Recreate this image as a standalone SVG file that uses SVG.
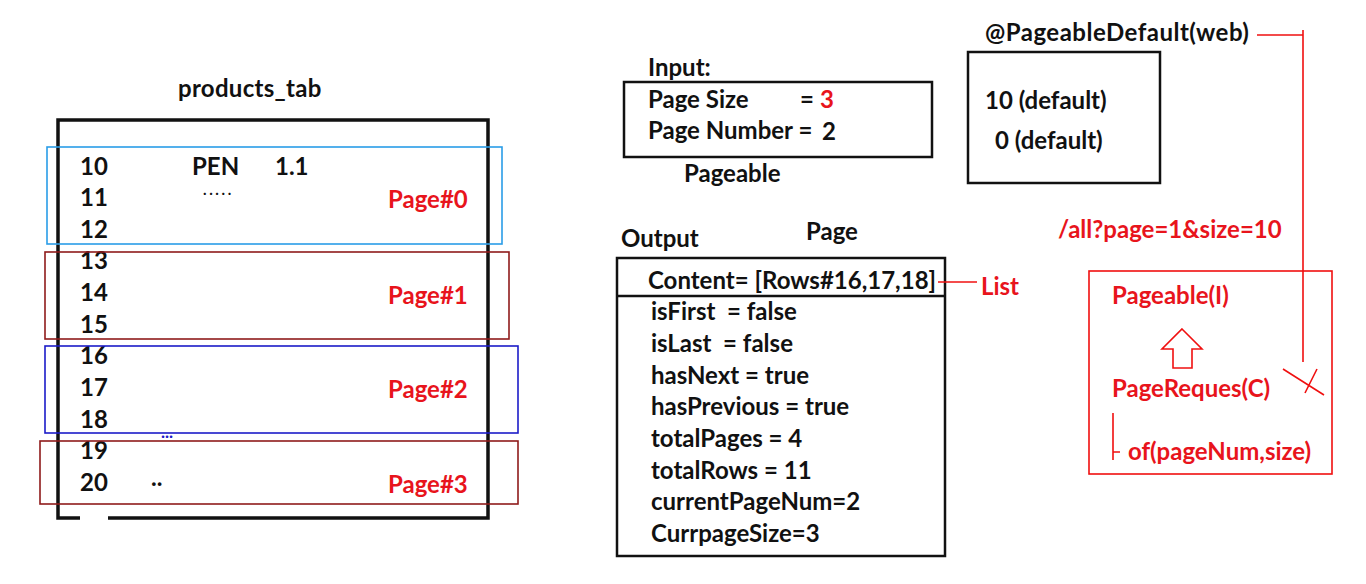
<svg xmlns="http://www.w3.org/2000/svg" width="1366" height="584" viewBox="0 0 1366 584">
<style>
text{font-family:Lato,"Liberation Sans",sans-serif;font-weight:bold;font-size:24px;fill:#111;white-space:pre}
.r{fill:#e8141c}
.box{fill:none;stroke:#111;stroke-width:2.5}
.rl{fill:none;stroke:#f01010;stroke-width:1.6}
</style>
<rect width="1366" height="584" fill="#fff"/>
<g id="products_tab">
<text x="178" y="97" letter-spacing="0.3">products_tab</text>
<path d="M80,518 H58 V120 H488 V518 H108" fill="none" stroke="#111" stroke-width="3.5"/>
<text x="80" y="175">10</text><text x="192" y="175">PEN</text><text x="275" y="175">1.1</text>
<text x="80" y="206">11</text><text x="203" y="195" style="font-size:15px" letter-spacing="2.6">.....</text>
<text x="80" y="238">12</text>
<text x="80" y="269">13</text>
<text x="80" y="301">14</text>
<text x="80" y="333">15</text>
<text x="80" y="364">16</text>
<text x="80" y="396">17</text>
<text x="80" y="428">18</text>
<text x="161" y="438" style="fill:#1c1cc8;font-size:17px">...</text>
<text x="80" y="459">19</text>
<text x="80" y="491">20</text><text x="151" y="486">..</text>
</g>
<g id="page0"><rect x="47" y="147" width="455" height="97" fill="none" stroke="#2a9de8" stroke-width="1.6"/><text class="r" x="388" y="208">Page#0</text></g>
<g id="page1"><rect x="45" y="252" width="464" height="87" fill="none" stroke="#8f1b1b" stroke-width="1.6"/><text class="r" x="388" y="304">Page#1</text></g>
<g id="page2"><rect x="45" y="346" width="473" height="87" fill="none" stroke="#1c1cc8" stroke-width="1.6"/><text class="r" x="388" y="398">Page#2</text></g>
<g id="page3"><rect x="40" y="441" width="478" height="63" fill="none" stroke="#8f1b1b" stroke-width="1.6"/><text class="r" x="388" y="493">Page#3</text></g>
<g id="input">
<text x="648" y="76">Input:</text>
<rect class="box" x="624" y="82" width="308" height="75"/>
<text x="648" y="108">Page Size</text><text x="800" y="108">=</text><text class="r" x="820" y="108">3</text>
<text x="648" y="139">Page Number =</text><text x="822" y="140">2</text>
<text x="684" y="182">Pageable</text>
</g>
<g id="output">
<text x="621" y="247">Output</text>
<text x="806" y="240">Page</text>
<rect class="box" x="617" y="258" width="328" height="298"/>
<line x1="617" y1="296" x2="945" y2="296" stroke="#111" stroke-width="2.5"/>
<text x="648" y="289">Content= [Rows#16,17,18]</text>
<text x="651" y="320">isFirst  = false</text>
<text x="651" y="352">isLast  = false</text>
<text x="651" y="384">hasNext = true</text>
<text x="651" y="415">hasPrevious = true</text>
<text x="651" y="447">totalPages = 4</text>
<text x="651" y="479">totalRows = 11</text>
<text x="651" y="510">currentPageNum=2</text>
<text x="651" y="542">CurrpageSize=3</text>
</g>
<g id="list"><text class="r" x="981" y="295">List</text></g>
<g id="defaults">
<text x="985" y="41" letter-spacing="0.5">@PageableDefault(web)</text>
<rect class="box" x="968" y="52" width="192" height="131"/>
<text x="985" y="109">10 (default)</text>
<text x="995" y="149">0 (default)</text>
</g>
<g id="url"><text class="r" x="1058" y="238">/all?page=1&amp;size=10</text></g>
<g id="pagerequest">
<rect class="rl" x="1089" y="271" width="243" height="203"/>
<text class="r" x="1112" y="304">Pageable(I)</text>
<path class="rl" d="M1182,329 L1202,349 H1192 V368 H1173 V349 H1162 Z"/>
<text class="r" x="1112" y="397">PageReques(C)</text>
<path class="rl" d="M1113,413 V460 M1113,452 H1120"/>
<text class="r" x="1128" y="460">of(pageNum,size)</text>
</g>
<g id="connectors">
<line class="rl" x1="938" y1="282" x2="977" y2="282"/>
<path class="rl" d="M1257,35 H1303 M1303,30 V362"/>
<path class="rl" d="M1283,369 L1324,395 M1317,369 L1305,393"/>
</g>
</svg>
